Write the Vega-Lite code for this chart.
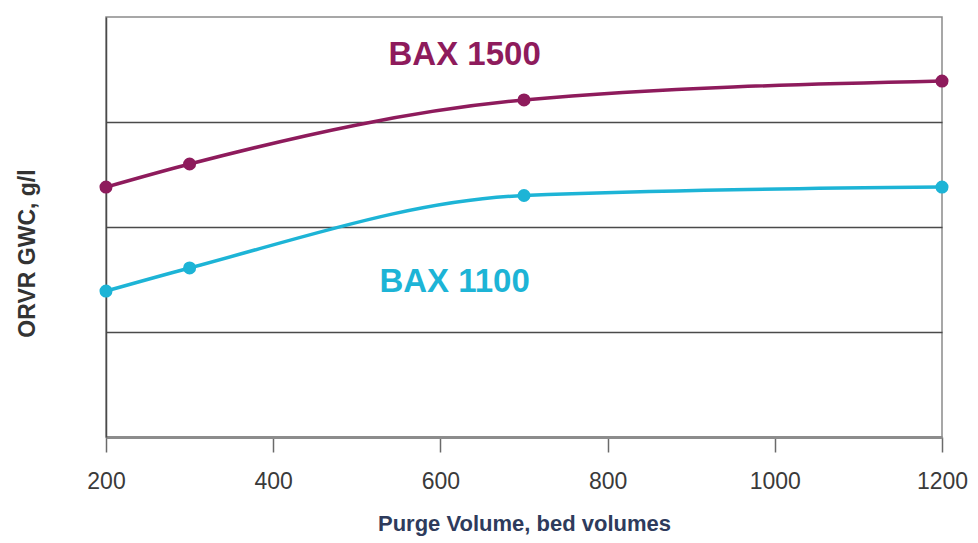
{
  "$schema": "https://vega.github.io/schema/vega-lite/v6.json",
  "autosize": {"type": "none"},
  "width": 836,
  "height": 420,
  "padding": {"left": 106, "top": 17, "right": 36, "bottom": 106},
  "background": "white",
  "config": {
    "view": {"stroke": "#8a8a8a", "strokeWidth": 1.5},
    "font": "Liberation Sans"
  },
  "datasets": {
    "series": [
      {"volume": 200, "gwc": 2.38, "grade": "BAX 1500"},
      {"volume": 300, "gwc": 2.6, "grade": "BAX 1500"},
      {"volume": 700, "gwc": 3.21, "grade": "BAX 1500"},
      {"volume": 1200, "gwc": 3.39, "grade": "BAX 1500"},
      {"volume": 200, "gwc": 1.39, "grade": "BAX 1100"},
      {"volume": 300, "gwc": 1.61, "grade": "BAX 1100"},
      {"volume": 700, "gwc": 2.3, "grade": "BAX 1100"},
      {"volume": 1200, "gwc": 2.38, "grade": "BAX 1100"}
    ],
    "labels": [
      {"volume": 629, "gwc": 3.64, "grade": "BAX 1500"},
      {"volume": 617, "gwc": 1.48, "grade": "BAX 1100"}
    ]
  },
  "layer": [
    {
      "data": {"name": "series"},
      "mark": {"type": "line", "interpolate": "monotone", "strokeWidth": 3.5},
      "encoding": {
        "x": {
          "field": "volume", "type": "quantitative",
          "scale": {"domain": [200, 1200], "nice": false, "zero": false},
          "axis": {
            "values": [200, 400, 600, 800, 1000, 1200],
            "format": "d",
            "labelFlush": false,
            "grid": false,
            "domainColor": "#8c8c8c", "domainWidth": 3,
            "tickColor": "#6a6a6a", "tickSize": 15, "tickWidth": 1.5,
            "labelFontSize": 23, "labelColor": "#3a3a3a", "labelPadding": 18,
            "title": "Purge Volume, bed volumes",
            "titleFontSize": 22, "titleFontWeight": "bold", "titleColor": "#2e3b5c",
            "titlePadding": 20
          }
        },
        "y": {
          "field": "gwc", "type": "quantitative",
          "scale": {"domain": [0, 4], "nice": false},
          "axis": {
            "values": [1, 2, 3],
            "labels": false, "ticks": false,
            "grid": true, "gridColor": "#4a4a4a", "gridWidth": 1.5,
            "domainColor": "#4a4a4a", "domainWidth": 1.5,
            "title": "ORVR GWC, g/l",
            "titleFontSize": 23, "titleFontWeight": "bold", "titleColor": "#333333",
            "titleAngle": -90, "titleBaseline": "middle",
            "titleX": -79, "titleY": 236
          }
        },
        "color": {
          "field": "grade", "type": "nominal",
          "scale": {"domain": ["BAX 1500", "BAX 1100"], "range": ["#8e1b5c", "#1db4d6"]},
          "legend": null
        }
      }
    },
    {
      "data": {"name": "series"},
      "mark": {"type": "point", "filled": true, "size": 170, "opacity": 1},
      "encoding": {
        "x": {"field": "volume", "type": "quantitative"},
        "y": {"field": "gwc", "type": "quantitative"},
        "color": {"field": "grade", "type": "nominal", "legend": null}
      }
    },
    {
      "data": {"name": "labels"},
      "mark": {"type": "text", "fontSize": 33, "fontWeight": "bold", "align": "center", "baseline": "middle"},
      "encoding": {
        "x": {"field": "volume", "type": "quantitative"},
        "y": {"field": "gwc", "type": "quantitative"},
        "text": {"field": "grade"},
        "color": {"field": "grade", "type": "nominal", "legend": null}
      }
    }
  ]
}
